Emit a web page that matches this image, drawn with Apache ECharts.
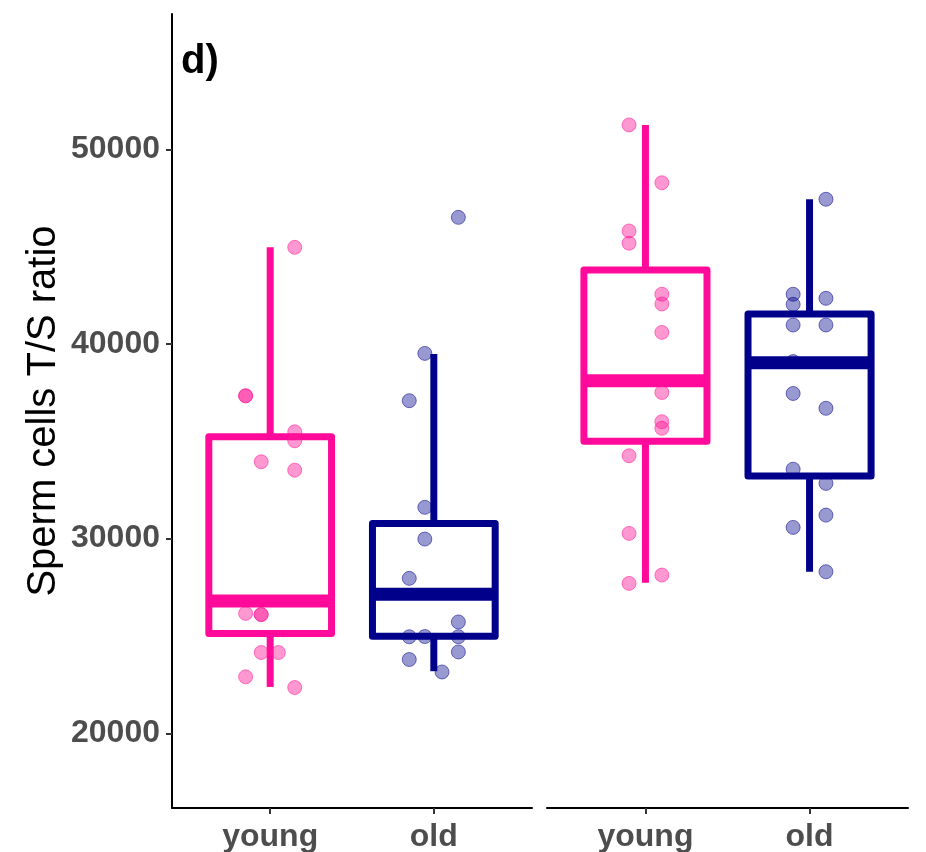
<!DOCTYPE html>
<html>
<head>
<meta charset="utf-8">
<script src="https://cdn.jsdelivr.net/npm/echarts@6/dist/echarts.min.js"></script>
<style>
    html, body { margin: 0; padding: 0; background: #fff; }
    #boxChart { width: 926px; height: 852px; }
</style>
</head>
<body>
<div id="boxChart"></div>
<script>
// 分组
var groups = ['young', 'old'];
var yTicks = [20000, 30000, 40000, 50000];
var colors = ['#FF0A9A', '#00008B'];

// 箱线 [x, min, Q1, median, Q3, max, colorIndex]
var leftBoxes = [
    [0, 22380, 25130, 26800, 35240, 44970, 0],
    [1, 23190, 24990, 27150, 30780, 39490, 1]
];
var rightBoxes = [
    [0, 27730, 35010, 38110, 43810, 51260, 0],
    [1, 28300, 33220, 39040, 41540, 47440, 1]
];

// 散点 [x(抖动), value]
var leftYoung = [
    [0.15, 44970], [-0.15, 37340], [-0.15, 37340], [0.15, 35490], [0.15, 35030],
    [-0.055, 33950], [0.15, 33520], [-0.15, 26160], [-0.055, 26100], [-0.055, 26100],
    [-0.055, 24150], [0.05, 24150], [-0.15, 22900], [0.15, 22350]
];
var leftOld = [
    [1.15, 46510], [0.945, 39520], [0.85, 37090], [0.945, 31610], [0.945, 29980],
    [0.85, 27960], [1.15, 25720], [0.85, 24960], [0.945, 24970], [1.15, 24960],
    [1.15, 24180], [0.85, 23790], [1.05, 23150]
];
var rightYoung = [
    [-0.1, 51260], [0.1, 48290], [-0.1, 45810], [-0.1, 45180], [0.1, 42560],
    [0.1, 42060], [0.1, 40600], [0.1, 37510], [0.1, 36010], [0.1, 35670],
    [-0.1, 34260], [-0.1, 30270], [0.1, 28130], [-0.1, 27700]
];
var rightOld = [
    [1.1, 47440], [0.9, 42560], [0.9, 42040], [1.1, 42350], [0.9, 40980],
    [1.1, 40980], [0.9, 39100], [0.9, 37460], [1.1, 36700], [0.9, 33570],
    [1.1, 32840], [1.1, 31210], [0.9, 30580], [1.1, 28300]
];

var boxWidth = 0.75;

window.onload = function () {
    myBoxChart();
};

// 箱子: 须线 + 矩形 + 中位线
function renderBox(params, api) {
    var x = api.value(0);
    var lo = api.coord([x, api.value(1)]);
    var q1 = api.coord([x, api.value(2)]);
    var med = api.coord([x, api.value(3)]);
    var q3 = api.coord([x, api.value(4)]);
    var hi = api.coord([x, api.value(5)]);
    var half = api.size([boxWidth, 0])[0] / 2;
    var color = colors[api.value(6)];
    return {
        type: 'group',
        children: [
            { type: 'line', shape: { x1: hi[0], y1: hi[1], x2: q3[0], y2: q3[1] }, style: { stroke: color, lineWidth: 7 } },
            { type: 'line', shape: { x1: lo[0], y1: lo[1], x2: q1[0], y2: q1[1] }, style: { stroke: color, lineWidth: 7 } },
            {
                type: 'rect',
                shape: { x: q3[0] - half, y: q3[1], width: half * 2, height: q1[1] - q3[1] },
                style: { fill: 'none', stroke: color, lineWidth: 7, lineJoin: 'round' }
            },
            { type: 'line', shape: { x1: med[0] - half, y1: med[1], x2: med[0] + half, y2: med[1] }, style: { stroke: color, lineWidth: 13 } }
        ]
    };
}

function myBoxChart() {
    var chart = echarts.init(document.getElementById('boxChart'));

    var labelFont = { fontFamily: 'Liberation Sans', fontWeight: 'bold', fontSize: 32, color: '#4D4D4D' };
    var pinkPoint = { color: 'rgba(255,20,150,0.55)', borderColor: 'rgba(255,20,150,0.65)', borderWidth: 1 };
    var navyPoint = { color: 'rgba(0,0,139,0.5)', borderColor: 'rgba(0,0,139,0.65)', borderWidth: 1 };

    var xAxisBase = function (gridIndex) {
        return {
            type: 'value',
            gridIndex: gridIndex,
            min: -0.6,
            max: 1.6,
            splitLine: { show: false },
            axisLine: { onZero: false, lineStyle: { color: '#000', width: 2 } },
            axisTick: { length: 6, lineStyle: { color: '#333', width: 2 }, customValues: [0, 1] },
            axisLabel: Object.assign({
                margin: 13,
                customValues: [0, 1],
                formatter: function (v) { return groups[Math.round(v)]; }
            }, labelFont)
        };
    };

    var option = {
        animation: false,
        backgroundColor: '#fff',
        title: {
            text: 'd)',
            left: 176,
            top: 37,
            textStyle: { fontFamily: 'Liberation Sans', fontWeight: 'bold', fontSize: 40, color: '#000' }
        },
        grid: [
            { left: 172, top: 14, width: 360, height: 794, outerBoundsMode: 'none' },
            { left: 547, top: 14, width: 361, height: 794, outerBoundsMode: 'none' }
        ],
        xAxis: [xAxisBase(0), xAxisBase(1)],
        yAxis: [
            {
                type: 'value',
                gridIndex: 0,
                min: 16160,
                max: 56960,
                name: 'Sperm cells T/S ratio',
                nameLocation: 'middle',
                nameGap: 108,
                nameTextStyle: { fontFamily: 'Liberation Sans', fontSize: 40, color: '#000' },
                splitLine: { show: false },
                axisLine: { onZero: false, lineStyle: { color: '#000', width: 2 } },
                axisTick: { length: 6, lineStyle: { color: '#333', width: 2 }, customValues: yTicks },
                axisLabel: Object.assign({
                    margin: 12,
                    customValues: yTicks,
                    formatter: function (v) { return String(v); }
                }, labelFont)
            },
            {
                type: 'value',
                gridIndex: 1,
                min: 16160,
                max: 56960,
                show: false,
                splitLine: { show: false }
            }
        ],
        series: [
            { type: 'custom', xAxisIndex: 0, yAxisIndex: 0, renderItem: renderBox, encode: { x: 0, y: [1, 5] }, data: leftBoxes, z: 2 },
            { type: 'custom', xAxisIndex: 1, yAxisIndex: 1, renderItem: renderBox, encode: { x: 0, y: [1, 5] }, data: rightBoxes, z: 2 },
            { type: 'scatter', xAxisIndex: 0, yAxisIndex: 0, data: leftYoung, symbolSize: 14, z: 3, itemStyle: pinkPoint },
            { type: 'scatter', xAxisIndex: 0, yAxisIndex: 0, data: leftOld, symbolSize: 14, z: 3, itemStyle: navyPoint },
            { type: 'scatter', xAxisIndex: 1, yAxisIndex: 1, data: rightYoung, symbolSize: 14, z: 3, itemStyle: pinkPoint },
            { type: 'scatter', xAxisIndex: 1, yAxisIndex: 1, data: rightOld, symbolSize: 14, z: 3, itemStyle: navyPoint }
        ]
    };
    chart.setOption(option);
}
</script>
</body>
</html>
